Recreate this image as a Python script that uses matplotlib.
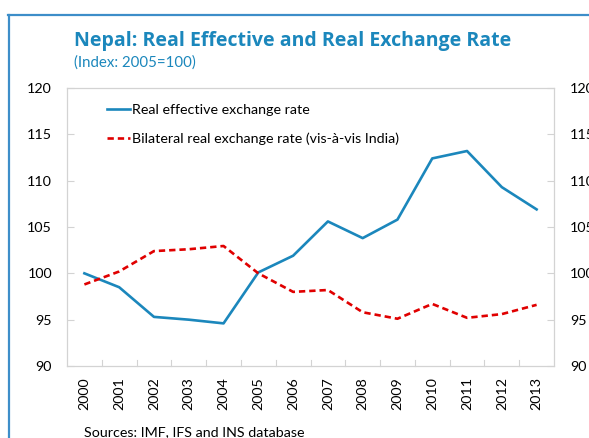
import matplotlib
matplotlib.use("Agg")
import matplotlib.pyplot as plt
from matplotlib.lines import Line2D

plt.rcParams['font.family'] = ['Lato', 'DejaVu Sans']

years = [str(y) for y in range(2000, 2014)]
reer = [100.0, 98.5, 95.3, 95.0, 94.6, 100.1, 101.9, 105.6, 103.8, 105.8,
        112.4, 113.2, 109.3, 106.9]
bilateral = [98.8, 100.2, 102.4, 102.6, 102.95, 100.0, 98.0, 98.2, 95.8, 95.1,
             96.7, 95.2, 95.6, 96.6]
yticks = [90, 95, 100, 105, 110, 115, 120]

blue = '#1B87BC'
red = '#E00000'
grey = '#D3D3D3'
fs = 10.3

fig = plt.figure(figsize=(5.89, 4.38), dpi=100)
ax = fig.add_axes([67/589, 1 - 366/438, (554 - 67)/589, (366 - 88)/438])

x = list(range(len(years)))
ax.plot(x, reer, color=blue, lw=1.9, label='Real effective exchange rate')
ax.plot(x, bilateral, color=red, lw=1.9, ls=(0, (2.4, 1.5)),
        label='Bilateral real exchange rate (vis-\u00e0-vis India)')

ax.set_xlim(-0.5, len(years) - 0.5)
ax.set_ylim(90, 120)
ax.set_yticks(yticks)
ax.set_yticklabels([str(v) for v in yticks], fontsize=fs)
ax.tick_params(axis='y', direction='in', length=5, color=grey, pad=10.8)

ax.set_xticks(x)
ax.set_xticklabels(years, rotation=90, fontsize=fs)
ax.tick_params(axis='x', length=0, pad=8)
for b in [i + 0.5 for i in x[:-1]]:
    ax.plot([b, b], [90, 90.6], color=grey, lw=0.8, clip_on=False)

for s in ax.spines.values():
    s.set_color(grey)
    s.set_linewidth(0.9)

ax2 = ax.twinx()
ax2.set_ylim(90, 120)
ax2.set_yticks(yticks)
ax2.set_yticklabels([str(v) for v in yticks], fontsize=fs)
ax2.tick_params(axis='y', direction='in', length=5, color=grey, pad=11.5)
for s in ax2.spines.values():
    s.set_visible(False)

ax.legend(loc='upper left', bbox_to_anchor=(0.049, 1.0), frameon=False,
          fontsize=fs, handlelength=1.6, handletextpad=0.14,
          labelspacing=1.1, borderaxespad=0.75, borderpad=0.4)

fig.text(74/589, 1 - 46/438, 'Nepal: Real Effective and Real Exchange Rate',
         color=blue, fontsize=14, fontweight='bold', va='baseline',
         family=['Open Sans', 'DejaVu Sans'])
fig.text(74/589, 1 - 67/438, '(Index: 2005=100)', color=blue, fontsize=10.8,
         va='baseline')
fig.text(84/589, 1 - 436/438, 'Sources: IMF, IFS and INS database',
         fontsize=fs, va='baseline')

# border of the box around the chart
frame = '#3D8EC9'
fig.add_artist(Line2D([8.5/589, 8.5/589], [0, 1 - 15/438], color=frame, lw=1.6))
fig.add_artist(Line2D([8/589, 1], [1 - 15/438, 1 - 15/438], color=frame, lw=1.6))

fig.savefig('out.png', dpi=100)
